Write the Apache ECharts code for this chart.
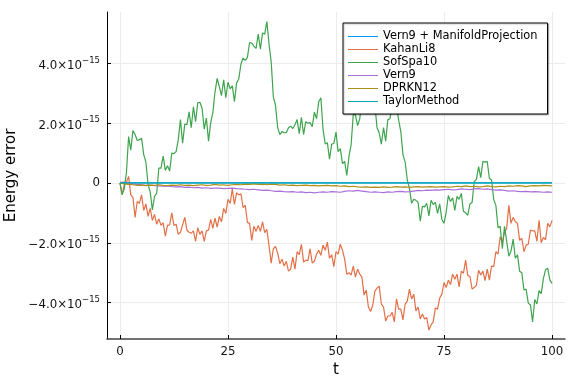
<!DOCTYPE html>
<html>
<head>
<meta charset="utf-8">
<script src="https://cdn.jsdelivr.net/npm/echarts@6/dist/echarts.min.js"></script>
<style>
html,body{margin:0;padding:0;background:#fff;}
#c{width:576px;height:384px;}
</style>
</head>
<body>
<div id="c"></div>
<script>
// values in units of 1e-15
const seriesNames = ["Vern9 + ManifoldProjection","KahanLi8","SofSpa10","Vern9","DPRKN12","TaylorMethod"];
const colors = ["#009AFA","#E36F47","#3EA44E","#A972DA","#AC8E18","#00A9AD"];
const xTicks = [0,25,50,75,100];
const yTicks = [-4,-2,0,2,4];

// t grid step 0.5 (0..100) for KahanLi8 and SofSpa10, step 1 for Vern9 / DPRKN12
const kahanLi8 = [
0.00,-0.40,-0.05,0.02,0.22,-0.40,-0.48,-1.15,-0.62,-0.68,
-0.40,-0.92,-0.70,-1.12,-0.85,-1.25,-1.05,-1.38,-1.20,-1.42,
-1.33,-1.78,-1.42,-1.40,-1.00,-1.42,-1.38,-1.72,-1.65,-1.40,
-1.15,-1.58,-1.65,-1.68,-1.60,-1.95,-1.50,-1.72,-1.60,-1.95,
-1.60,-1.58,-1.22,-1.52,-1.18,-1.48,-1.12,-1.30,-0.85,-1.02,
-0.55,-0.68,-0.20,-0.72,-0.32,-0.40,-0.36,-0.82,-0.75,-1.32,
-1.35,-1.92,-1.45,-1.62,-1.42,-1.62,-1.30,-1.66,-1.55,-2.10,
-2.68,-2.20,-2.12,-2.35,-2.70,-2.55,-2.78,-2.62,-2.95,-2.88,
-2.48,-2.88,-2.30,-2.40,-2.05,-2.65,-2.58,-2.60,-2.20,-2.68,
-2.62,-2.38,-2.25,-2.42,-2.08,-2.25,-1.98,-2.52,-2.40,-2.80,
-2.30,-2.38,-2.05,-2.25,-2.55,-3.05,-3.00,-3.08,-2.78,-3.15,
-2.88,-3.05,-3.15,-3.75,-3.58,-4.15,-4.30,-4.10,-3.62,-3.52,
-3.45,-4.05,-4.15,-4.62,-4.45,-4.45,-4.33,-4.65,-3.88,-4.22,
-4.22,-4.58,-4.05,-3.95,-3.55,-3.88,-3.72,-4.28,-4.15,-4.55,
-4.38,-4.55,-4.50,-4.92,-4.75,-4.65,-4.18,-4.22,-3.85,-3.72,
-3.33,-3.50,-3.25,-3.40,-3.05,-3.22,-3.05,-3.48,-2.95,-3.02,
-2.58,-3.10,-3.12,-3.55,-3.50,-3.42,-2.92,-3.08,-2.95,-3.27,
-2.88,-3.25,-2.78,-2.80,-2.30,-2.38,-1.80,-1.98,-1.65,-1.52,
-0.75,-1.35,-1.15,-1.30,-1.35,-1.92,-1.85,-2.30,-2.08,-2.05,
-1.58,-1.60,-1.60,-1.95,-1.25,-2.00,-1.82,-1.90,-1.35,-1.47,
-1.25];

const sofSpa10 = [
0.00,-0.38,-0.20,0.35,1.55,1.10,1.75,1.62,1.42,1.45,
1.50,0.95,0.70,-0.05,-0.30,-0.90,-0.45,-0.35,0.50,0.50,
0.90,0.42,0.58,0.40,1.00,0.98,1.05,1.45,2.12,1.33,
1.97,1.95,2.38,1.85,2.55,2.05,2.68,2.70,2.50,1.80,
2.17,1.40,2.02,2.35,3.05,3.50,3.22,2.92,3.45,2.85,
3.37,3.15,3.25,2.72,3.35,3.48,3.98,4.18,4.10,4.20,
4.70,4.68,4.58,4.50,4.98,4.48,5.02,4.98,5.40,4.65,
4.05,2.88,2.60,1.85,1.62,1.72,1.68,1.68,1.85,1.90,
1.82,1.95,2.12,1.65,2.20,1.62,2.05,2.00,2.02,1.88,
2.37,2.15,2.72,2.85,1.80,1.30,1.35,0.80,1.30,1.32,
1.70,1.05,1.15,0.65,0.72,0.25,0.88,1.28,2.30,2.28,
1.92,2.15,2.80,2.80,3.22,2.80,3.12,2.58,2.60,1.85,
1.67,1.30,1.85,1.40,2.12,2.15,2.62,2.58,2.60,2.10,
1.72,0.95,0.70,0.10,-0.18,-0.68,-0.55,-0.58,-0.65,-1.28,
-0.78,-0.80,-0.68,-1.10,-0.58,-0.72,-0.65,-1.02,-0.70,-1.22,
-1.35,-0.98,-0.42,-0.62,-0.50,-0.92,-0.45,-0.55,-0.35,-0.95,
-1.00,-1.08,-0.70,-0.65,0.05,0.12,0.55,0.18,0.72,0.70,
0.72,0.15,0.10,-0.55,-0.75,-1.50,-1.45,-2.20,-1.45,-1.95,
-2.45,-2.28,-1.88,-2.52,-2.40,-2.95,-3.00,-3.58,-3.55,-4.02,
-4.08,-4.65,-3.90,-4.05,-3.60,-3.70,-3.20,-2.90,-2.85,-3.25,
-3.36];

const vern9 = [
0.02,0.03,0.00,-0.03,-0.05,-0.06,-0.08,-0.07,-0.09,-0.10,
-0.11,-0.10,-0.12,-0.13,-0.12,-0.15,-0.14,-0.16,-0.15,-0.17,
-0.16,-0.18,-0.17,-0.17,-0.19,-0.18,-0.17,-0.19,-0.20,-0.21,
-0.22,-0.21,-0.23,-0.25,-0.24,-0.26,-0.28,-0.27,-0.29,-0.30,
-0.29,-0.31,-0.30,-0.32,-0.31,-0.33,-0.31,-0.30,-0.31,-0.29,
-0.30,-0.31,-0.28,-0.26,-0.27,-0.25,-0.27,-0.29,-0.31,-0.30,
-0.31,-0.32,-0.30,-0.31,-0.29,-0.28,-0.30,-0.29,-0.27,-0.25,
-0.26,-0.24,-0.25,-0.23,-0.24,-0.22,-0.21,-0.23,-0.22,-0.20,
-0.21,-0.22,-0.20,-0.19,-0.21,-0.20,-0.22,-0.24,-0.23,-0.25,
-0.27,-0.26,-0.28,-0.29,-0.28,-0.30,-0.29,-0.30,-0.31,-0.30,
-0.31];

const dprkn12 = [
0.00,-0.03,-0.05,-0.06,-0.08,-0.07,-0.09,-0.07,-0.08,-0.06,
-0.08,-0.09,-0.07,-0.08,-0.06,-0.08,-0.07,-0.09,-0.07,-0.06,
-0.08,-0.07,-0.05,-0.07,-0.06,-0.08,-0.06,-0.05,-0.06,-0.04,
-0.05,-0.03,-0.05,-0.04,-0.06,-0.04,-0.05,-0.07,-0.06,-0.08,
-0.07,-0.09,-0.08,-0.07,-0.09,-0.08,-0.10,-0.09,-0.08,-0.10,
-0.09,-0.11,-0.10,-0.12,-0.11,-0.13,-0.14,-0.13,-0.15,-0.14,
-0.15,-0.13,-0.15,-0.14,-0.12,-0.14,-0.13,-0.15,-0.13,-0.12,
-0.14,-0.13,-0.12,-0.14,-0.13,-0.12,-0.14,-0.13,-0.11,-0.12,
-0.10,-0.12,-0.11,-0.13,-0.12,-0.10,-0.12,-0.13,-0.11,-0.12,
-0.10,-0.11,-0.09,-0.10,-0.12,-0.10,-0.09,-0.10,-0.08,-0.09,
-0.10];

const manifold = [0.00, 0.00];   // at t = 0, 100
const taylor = [0.00, 0.00];     // at t = 0, 100
const tEnds = [0, 100];

function pairs(vals, step) { return vals.map((v, i) => [i * step, v]); }
function pairsT(ts, vals) { return vals.map((v, i) => [ts[i], v]); }

const dataList = [
  pairsT(tEnds, manifold),
  pairs(kahanLi8, 0.5),
  pairs(sofSpa10, 0.5),
  pairs(vern9, 1),
  pairs(dprkn12, 1),
  pairsT(tEnds, taylor)
];

function yFmt(v) {
  if (Math.abs(v) < 1e-9) return '{z|0}';
  const s = (v < 0 ? '\u2212' : '') + Math.abs(v).toFixed(1) + '\u00d710';
  return '{m|' + s + '}{e|\u221215}';
}

const font = 'DejaVu Sans';
const tickFs = 11.8;
// thin horizontal bar icon; the two moveTo points fix the 30x13 bounding box
const lineIcon = 'path://M0,0 M30,13 M0,6 L30,6 L30,7 L0,7 Z';
const chart = echarts.init(document.getElementById('c'), null, {renderer: 'canvas'});
chart.setOption({
  animation: false,
  backgroundColor: '#ffffff',
  textStyle: {fontFamily: font},
  grid: {left: 107, right: 11, top: 12, bottom: 45, containLabel: false, outerBoundsMode: 'none'},
  legend: {
    orient: 'vertical',
    left: 343, top: 23, z: 20,
    padding: [7, 10, 6, 5],
    itemWidth: 30, itemHeight: 13, itemGap: 0,
    backgroundColor: '#ffffff',
    borderColor: '#000000', borderWidth: 1,
    shadowColor: 'rgba(0,0,0,0.22)', shadowOffsetX: 1, shadowOffsetY: 1, shadowBlur: 1,
    icon: lineIcon,
    textStyle: {fontFamily: font, fontSize: 11.4, lineHeight: 13, color: '#000'},
    data: seriesNames.map((n, i) => ({name: n, icon: lineIcon, itemStyle: {color: colors[i], borderWidth: 0, opacity: 1}}))
  },
  xAxis: {
    type: 'value', min: -3, max: 103,
    name: 't', nameLocation: 'middle', nameGap: 23,
    nameTextStyle: {fontFamily: font, fontSize: 15, color: '#000'},
    axisLine: {show: true, onZero: false, lineStyle: {color: '#444', width: 1.5}},
    axisTick: {show: true, inside: true, length: 4, customValues: xTicks, lineStyle: {color: '#000'}},
    axisLabel: {customValues: xTicks, margin: 7, fontFamily: font, fontSize: tickFs, color: '#111'},
    splitLine: {show: true, lineStyle: {color: '#ececec', width: 1}}
  },
  yAxis: {
    type: 'value', min: -5.22, max: 5.72,
    name: 'Energy error', nameLocation: 'middle', nameGap: 88, nameMoveOverlap: false,
    nameTextStyle: {fontFamily: font, fontSize: 15, color: '#000'},
    axisLine: {show: true, onZero: false, lineStyle: {color: '#000', width: 1}},
    axisTick: {show: true, inside: true, length: 4, customValues: yTicks, lineStyle: {color: '#000'}},
    axisLabel: {
      customValues: yTicks, margin: 7,
      formatter: yFmt,
      rich: {
        z: {fontFamily: font, fontSize: tickFs, color: '#111'},
        m: {fontFamily: font, fontSize: tickFs, color: '#111', padding: [5, 0, 0, 0]},
        e: {fontFamily: font, fontSize: 8.5, color: '#111', padding: [0, 0, 6, 0]}
      }
    },
    splitLine: {show: true, lineStyle: {color: '#ececec', width: 1}}
  },
  series: seriesNames.map((n, i) => ({
    name: n, type: 'line', data: dataList[i],
    symbol: 'none', showSymbol: false,
    color: colors[i],
    itemStyle: {color: colors[i]},
    lineStyle: {color: colors[i], width: 1.2},
    z: 2
  }))
});
</script>
</body>
</html>
